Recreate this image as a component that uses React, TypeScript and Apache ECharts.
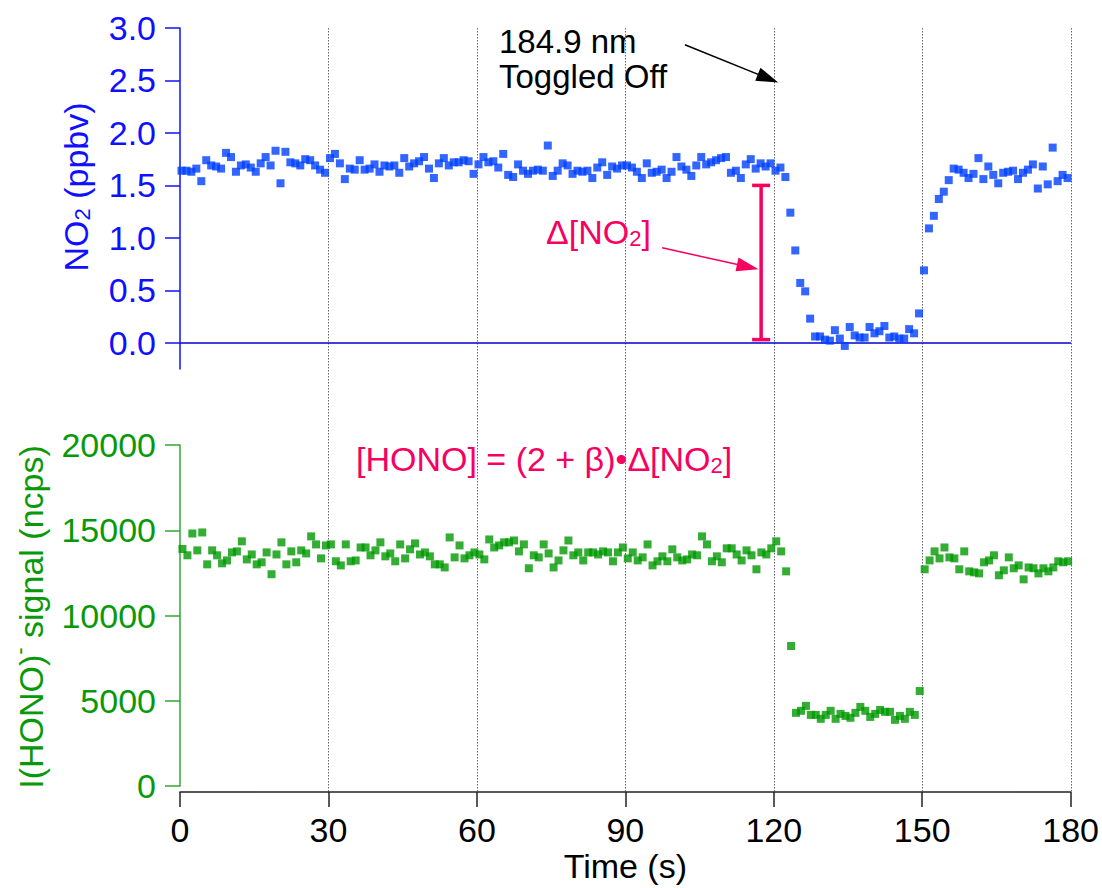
import React, { useEffect, useRef } from "react";
import * as echarts from "echarts";

// NO2 mixing ratio (ppbv), one sample per second starting at t = 0.3 s
const NO2 = [
  1.64, 1.64, 1.63, 1.66, 1.54, 1.74, 1.69, 1.68, 1.66, 1.81,
  1.77, 1.63, 1.69, 1.70, 1.67, 1.63, 1.71, 1.77, 1.69, 1.83,
  1.52, 1.82, 1.72, 1.71, 1.69, 1.75, 1.74, 1.69, 1.65, 1.62,
  1.76, 1.80, 1.71, 1.56, 1.66, 1.65, 1.74, 1.65, 1.66, 1.70,
  1.63, 1.69, 1.68, 1.69, 1.62, 1.76, 1.68, 1.71, 1.73, 1.77,
  1.66, 1.57, 1.71, 1.76, 1.69, 1.72, 1.72, 1.74, 1.73, 1.61,
  1.70, 1.77, 1.72, 1.73, 1.67, 1.80, 1.60, 1.58, 1.70, 1.64,
  1.61, 1.64, 1.65, 1.64, 1.88, 1.59, 1.64, 1.71, 1.69, 1.61,
  1.64, 1.63, 1.64, 1.57, 1.67, 1.72, 1.60, 1.68, 1.66, 1.69,
  1.69, 1.67, 1.63, 1.57, 1.71, 1.62, 1.63, 1.65, 1.57, 1.63,
  1.77, 1.68, 1.65, 1.59, 1.69, 1.77, 1.70, 1.72, 1.74, 1.76,
  1.77, 1.62, 1.64, 1.57, 1.70, 1.75, 1.66, 1.71, 1.68, 1.71,
  1.64, 1.67, 1.58, 1.24, 0.88, 0.57, 0.49, 0.23, 0.06, 0.06,
  0.03, 0.02, 0.12, 0.04, -0.03, 0.15, 0.07, 0.05, 0.05, 0.15,
  0.09, 0.11, 0.16, 0.05, 0.06, 0.04, 0.04, 0.13, 0.09, 0.28,
  0.69, 1.09, 1.21, 1.37, 1.44, 1.55, 1.66, 1.65, 1.62, 1.57,
  1.61, 1.76, 1.56, 1.68, 1.60, 1.52, 1.62, 1.63, 1.64, 1.56,
  1.62, 1.65, 1.70, 1.47, 1.68, 1.51, 1.86, 1.54, 1.60, 1.57,
];
const NO2_START = 0.3;

// I(HONO)- signal (ncps), one sample per second starting at t = 0.5 s
const HONO = [
  13900, 13530, 14810, 13820, 14870, 13000, 13820, 13530, 13060, 13230,
  13700, 13760, 14350, 13290, 13580, 13000, 13120, 13700, 12420, 13580,
  14290, 13000, 13760, 13120, 13820, 13640, 14640, 14170, 13350, 14110,
  14170, 13180, 12940, 14170, 13180, 13230, 13990, 13990, 13530, 13820,
  14290, 13470, 13640, 13180, 14170, 13350, 13880, 14230, 13580, 13700,
  13470, 13000, 13000, 12820, 14580, 13410, 14110, 13350, 13530, 13700,
  13580, 13290, 14460, 13990, 14110, 14290, 14290, 14400, 13760, 14170,
  12770, 13530, 13410, 14170, 13640, 12820, 13230, 13820, 14400, 13530,
  13700, 13230, 13700, 13700, 13580, 13760, 13700, 13180, 13700, 13990,
  13350, 13700, 13230, 13410, 14170, 12940, 13180, 13470, 13180, 13880,
  13410, 13230, 13290, 13580, 13530, 14640, 14170, 13180, 13470, 13120,
  13940, 13940, 13580, 13230, 13820, 13530, 12710, 13700, 13580, 13940,
  14350, 13760, 12590, 8210, 4290, 4410, 4700, 4170, 4170, 3940,
  4170, 4410, 3940, 4230, 4110, 4000, 4290, 4640, 4410, 4050,
  4230, 4460, 4350, 4350, 3880, 4110, 3940, 4350, 4170, 5570,
  12710, 13230, 13760, 13350, 13990, 13410, 13350, 12710, 13760, 12590,
  12530, 12470, 13120, 13230, 13530, 12360, 12650, 13410, 12770, 12940,
  12120, 12820, 12770, 12470, 12770, 12590, 12820, 13180, 13120, 13180,
];
const HONO_START = 0.5;

const NO2_TICKS = [0, 0.5, 1.0, 1.5, 2.0, 2.5, 3.0];

// Annotations (data coordinates of the top panel)
const DELTA_BAR = [[117.4, 0.03, 1.5]];
const TOGGLE_ARROW = [[102.0, 2.84], [118.8, 2.52]];
const DELTA_ARROW = [[97.4, 0.905], [114.7, 0.724]];

const FONT = "'Liberation Sans', Arial, Helvetica, sans-serif";
const BLUE_AXIS = "#1010ff";
const BLUE_MARK = "#0040ff";
const GREEN_AXIS = "#2ea82e";
const GREEN_TEXT = "#089908";
const GREEN_MARK = "#009900";
const PINK = "#f7005f";
const FS = 34;
const SUB = 22;

export default function App() {
  const ref = useRef<HTMLDivElement>(null);

  useEffect(() => {
    if (!ref.current) return;
    const chart = echarts.init(ref.current, undefined, { renderer: "svg" });

    const no2Data = NO2.map((v, i) => [NO2_START + i, v]);
    const honoData = HONO.map((v, i) => [HONO_START + i, v]);

    const richBase = (color: string) => ({
      n: { fill: color, fontSize: FS, fontFamily: FONT, lineHeight: 40, verticalAlign: "bottom" },
      s: { fill: color, fontSize: SUB, fontFamily: FONT, lineHeight: 22, verticalAlign: "bottom" },
      p: { fill: color, fontSize: SUB, fontFamily: FONT, lineHeight: 22, verticalAlign: "top" },
    });

    const option: any = {
      animation: false,
      backgroundColor: "#ffffff",
      textStyle: { fontFamily: FONT },
      grid: [
        { left: 180, right: 31, top: 28, height: 341 },
        { left: 180, right: 31, top: 445, height: 341 },
        { left: 180, right: 31, top: 28, height: 764 },
      ],
      xAxis: [
        {
          gridIndex: 0, type: "value", min: 0, max: 180, interval: 30,
          axisLine: { show: false }, axisTick: { show: false },
          axisLabel: { show: false }, splitLine: { show: false },
        },
        {
          gridIndex: 1, type: "value", min: 0, max: 180, interval: 30, offset: 6,
          axisLine: { show: true, onZero: false, lineStyle: { color: "#222", width: 1.5 } },
          axisTick: { show: true, inside: false, length: 15, lineStyle: { color: "#222", width: 1.5 } },
          axisLabel: { color: "#000", fontSize: FS, fontFamily: FONT, margin: 21 },
          splitLine: { show: false },
          name: "Time (s)", nameLocation: "middle", nameGap: 57,
          nameTextStyle: { color: "#000", fontSize: FS, fontFamily: FONT },
        },
        {
          gridIndex: 2, type: "value", min: 0, max: 180, interval: 30,
          axisLine: { show: false }, axisTick: { show: false }, axisLabel: { show: false },
          splitLine: {
            show: true, showMinLine: false, showMaxLine: true,
            lineStyle: { color: "#666", type: [1.5, 1.5], width: 1 },
          },
        },
      ],
      yAxis: [
        {
          gridIndex: 0, type: "value", min: -0.25, max: 3,
          axisLine: { show: true, onZero: false, lineStyle: { color: BLUE_AXIS, width: 1.5 } },
          axisTick: { show: true, inside: false, length: 15, customValues: NO2_TICKS, lineStyle: { color: BLUE_AXIS, width: 1.5 } },
          axisLabel: {
            color: BLUE_AXIS, fontSize: FS, fontFamily: FONT, margin: 24,
            customValues: NO2_TICKS,
            formatter: (v: number) => v.toFixed(1),
          },
          splitLine: { show: false },
        },
        {
          gridIndex: 1, type: "value", min: 0, max: 20000, interval: 5000,
          axisLine: { show: true, onZero: false, lineStyle: { color: GREEN_AXIS, width: 1.5 } },
          axisTick: { show: true, inside: false, length: 15, lineStyle: { color: GREEN_AXIS, width: 1.5 } },
          axisLabel: {
            color: GREEN_TEXT, fontSize: FS, fontFamily: FONT, margin: 24,
            formatter: (v: number) => String(Math.round(v)),
          },
          splitLine: { show: false },
        },
        {
          gridIndex: 2, type: "value", min: 0, max: 1, show: false,
        },
      ],
      series: [
        {
          type: "scatter", name: "NO2", xAxisIndex: 0, yAxisIndex: 0,
          symbol: "rect", symbolSize: 8, itemStyle: { color: BLUE_MARK },
          data: no2Data, z: 5,
          markLine: {
            silent: true, animation: false,
            label: { show: false },
            symbol: ["none", "none"],
            data: [
              { yAxis: 0, lineStyle: { color: "#0000d0", width: 1.5, type: "solid" } },
              [
                { coord: TOGGLE_ARROW[0], symbol: "none", lineStyle: { color: "#000", width: 1.5, type: "solid" } },
                { coord: TOGGLE_ARROW[1], symbol: "triangle", symbolSize: [14, 22], itemStyle: { color: "#000" }, lineStyle: { color: "#000", width: 1.5, type: "solid" } },
              ],
              [
                { coord: DELTA_ARROW[0], symbol: "none", lineStyle: { color: PINK, width: 1.5, type: "solid" } },
                { coord: DELTA_ARROW[1], symbol: "triangle", symbolSize: [14, 22], itemStyle: { color: PINK }, lineStyle: { color: PINK, width: 1.5, type: "solid" } },
              ],
            ],
          },
        },
        {
          type: "custom", xAxisIndex: 0, yAxisIndex: 0, silent: true, z: 6,
          data: DELTA_BAR,
          encode: { x: 0, y: [1, 2] },
          renderItem: (params: any, api: any) => {
            const x = api.value(0);
            const p1 = api.coord([x, api.value(1)]);
            const p2 = api.coord([x, api.value(2)]);
            const w = 9;
            const st = { stroke: PINK, lineWidth: 3.5 };
            return {
              type: "group",
              children: [
                { type: "line", shape: { x1: p1[0], y1: p1[1], x2: p2[0], y2: p2[1] }, style: st },
                { type: "line", shape: { x1: p1[0] - w, y1: p1[1], x2: p1[0] + w, y2: p1[1] }, style: st },
                { type: "line", shape: { x1: p2[0] - w, y1: p2[1], x2: p2[0] + w, y2: p2[1] }, style: st },
              ],
            };
          },
        },
        {
          type: "scatter", name: "HONO", xAxisIndex: 1, yAxisIndex: 1,
          symbol: "rect", symbolSize: 8, itemStyle: { color: GREEN_MARK },
          data: honoData, z: 5,
        },
      ],
      graphic: [
        {
          type: "text", x: 499, y: 41,
          style: {
            text: "184.9 nm", fill: "#000", font: `33px ${FONT}`,
            align: "left", verticalAlign: "middle",
          },
        },
        {
          type: "text", x: 499, y: 76,
          style: {
            text: "Toggled Off", fill: "#000", font: `33px ${FONT}`,
            align: "left", verticalAlign: "middle",
          },
        },
        {
          type: "text", x: 546, y: 229,
          style: {
            text: "{n|Δ[NO}{s|2}{n|]}", align: "left", verticalAlign: "middle",
            rich: richBase(PINK),
          },
        },
        {
          type: "text", x: 356, y: 456,
          style: {
            text: "{n|[HONO] = (2 + β)•Δ[NO}{s|2}{n|]}", align: "left", verticalAlign: "middle",
            rich: richBase(PINK),
          },
        },
        {
          type: "text", x: 73, y: 187, rotation: Math.PI / 2,
          style: {
            text: "{n|NO}{s|2}{n| (ppbv)}", align: "center", verticalAlign: "middle",
            rich: richBase(BLUE_AXIS),
          },
        },
        {
          type: "text", x: 28, y: 617, rotation: Math.PI / 2,
          style: {
            text: "{n|I(HONO)}{p|-}{n| signal (ncps)}", align: "center", verticalAlign: "middle",
            rich: richBase(GREEN_TEXT),
          },
        },
      ],
    };

    chart.setOption(option);
    return () => chart.dispose();
  }, []);

  return (
    <div
      ref={ref}
      style={{ position: "fixed", left: 0, top: 0, width: 1102, height: 888, background: "#fff" }}
    />
  );
}
